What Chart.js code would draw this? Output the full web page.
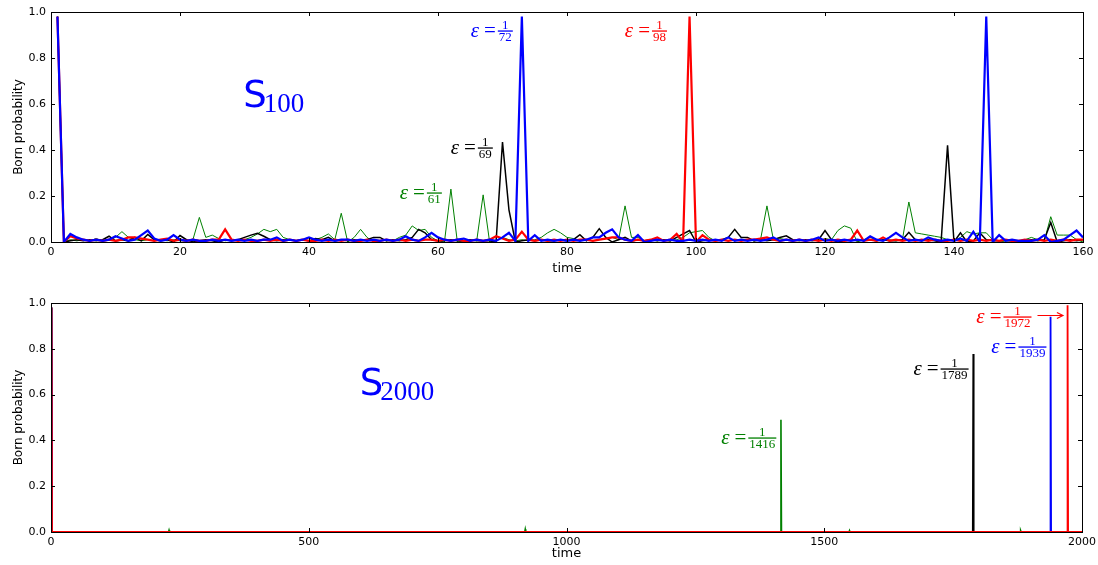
<!DOCTYPE html>
<html>
<head>
<meta charset="utf-8">
<script src="https://cdn.jsdelivr.net/npm/chart.js@4"></script>
<style>
  body { margin: 0; background: #fff; }
  canvas { position: absolute; left: 0; }
  #chartTop { top: 0; }
  #chartBottom { top: 282px; }
</style>
</head>
<body>
<canvas id="chartTop" width="1098" height="282"></canvas>
<canvas id="chartBottom" width="1098" height="283"></canvas>
<script>
// ---------------- S100 data : t = 1 .. 160 ----------------
const time100 = Array.from({ length: 160 }, (_, i) => i + 1);

const green100 = [
  0.98, 0.00, 0.01, 0.005, 0.01, 0.005, 0.015, 0.005, 0.01, 0.02,
  0.045, 0.02, 0.01, 0.005, 0.01, 0.005, 0.01, 0.005, 0.01, 0.005,
  0.005, 0.01, 0.107, 0.02, 0.03, 0.015, 0.005, 0.01, 0.005, 0.01,
  0.02, 0.035, 0.055, 0.045, 0.055, 0.02, 0.01, 0.005, 0.01, 0.02,
  0.01, 0.02, 0.035, 0.01, 0.125, 0.0, 0.02, 0.055, 0.02, 0.0,
  0.005, 0.01, 0.005, 0.02, 0.03, 0.07, 0.05, 0.055, 0.02, 0.005,
  0.0, 0.23, 0.0, 0.005, 0.01, 0.005, 0.205, 0.0, 0.005, 0.02,
  0.01, 0.005, 0.01, 0.005, 0.01, 0.02, 0.04, 0.055, 0.04, 0.02,
  0.015, 0.005, 0.01, 0.005, 0.01, 0.015, 0.02, 0.01, 0.157, 0.02,
  0.02, 0.005, 0.01, 0.005, 0.01, 0.005, 0.01, 0.02, 0.04, 0.045,
  0.05, 0.02, 0.005, 0.01, 0.005, 0.01, 0.005, 0.01, 0.005, 0.01,
  0.157, 0.01, 0.015, 0.01, 0.005, 0.01, 0.005, 0.01, 0.005, 0.015,
  0.01, 0.05, 0.07, 0.06, 0.0, 0.01, 0.02, 0.01, 0.005, 0.01,
  0.005, 0.01, 0.174, 0.04, 0.035, 0.03, 0.025, 0.02, 0.01, 0.005,
  0.02, 0.045, 0.035, 0.04, 0.04, 0.01, 0.005, 0.0, 0.0, 0.005,
  0.01, 0.02, 0.01, 0.005, 0.11, 0.03, 0.03, 0.03, 0.01, 0.0,
];

const black100 = [
  0.98, 0.0, 0.005, 0.01, 0.005, 0.01, 0.005, 0.01, 0.025, 0.005,
  0.01, 0.005, 0.02, 0.005, 0.033, 0.01, 0.005, 0.01, 0.0, 0.028,
  0.01, 0.0, 0.005, 0.01, 0.005, 0.0, 0.01, 0.005, 0.01, 0.02,
  0.03, 0.038, 0.025, 0.01, 0.005, 0.01, 0.01, 0.005, 0.01, 0.005,
  0.015, 0.01, 0.02, 0.005, 0.01, 0.005, 0.01, 0.005, 0.01, 0.02,
  0.02, 0.005, 0.01, 0.005, 0.01, 0.02, 0.055, 0.04, 0.01, 0.005,
  0.005, 0.01, 0.005, 0.005, 0.01, 0.005, 0.005, 0.005, 0.0, 0.435,
  0.14, 0.0, 0.005, 0.01, 0.005, 0.01, 0.005, 0.005, 0.01, 0.005,
  0.01, 0.032, 0.005, 0.02, 0.058, 0.02, 0.0, 0.01, 0.02, 0.005,
  0.01, 0.005, 0.01, 0.005, 0.01, 0.005, 0.02, 0.035, 0.05, 0.0,
  0.005, 0.01, 0.005, 0.01, 0.02, 0.055, 0.02, 0.02, 0.005, 0.01,
  0.005, 0.01, 0.02, 0.027, 0.01, 0.005, 0.01, 0.005, 0.01, 0.05,
  0.01, 0.0, 0.005, 0.01, 0.005, 0.01, 0.01, 0.005, 0.01, 0.005,
  0.005, 0.01, 0.042, 0.01, 0.005, 0.01, 0.005, 0.0, 0.42, 0.0,
  0.04, 0.0, 0.005, 0.04, 0.01, 0.005, 0.005, 0.01, 0.005, 0.005,
  0.005, 0.01, 0.005, 0.01, 0.085, 0.0, 0.005, 0.01, 0.005, 0.01,
];

const blue100 = [
  0.98, 0.0, 0.035, 0.02, 0.01, 0.005, 0.01, 0.005, 0.01, 0.025,
  0.015, 0.005, 0.01, 0.03, 0.05, 0.015, 0.005, 0.01, 0.03, 0.01,
  0.005, 0.01, 0.005, 0.005, 0.01, 0.005, 0.01, 0.005, 0.01, 0.005,
  0.01, 0.005, 0.01, 0.01, 0.02, 0.005, 0.01, 0.005, 0.01, 0.02,
  0.01, 0.005, 0.01, 0.005, 0.01, 0.01, 0.005, 0.01, 0.005, 0.01,
  0.005, 0.01, 0.005, 0.01, 0.025, 0.01, 0.005, 0.02, 0.04, 0.02,
  0.01, 0.005, 0.01, 0.015, 0.005, 0.01, 0.005, 0.01, 0.005, 0.02,
  0.04, 0.005, 0.98, 0.005, 0.03, 0.005, 0.01, 0.005, 0.01, 0.005,
  0.01, 0.005, 0.01, 0.02, 0.02, 0.04, 0.055, 0.02, 0.01, 0.005,
  0.03, 0.0, 0.005, 0.01, 0.005, 0.01, 0.005, 0.005, 0.01, 0.005,
  0.01, 0.005, 0.01, 0.005, 0.02, 0.005, 0.01, 0.005, 0.01, 0.005,
  0.01, 0.02, 0.005, 0.01, 0.005, 0.01, 0.005, 0.01, 0.02, 0.005,
  0.01, 0.005, 0.01, 0.005, 0.01, 0.005, 0.025, 0.01, 0.005, 0.02,
  0.04, 0.02, 0.005, 0.01, 0.005, 0.02, 0.01, 0.005, 0.01, 0.005,
  0.015, 0.005, 0.045, 0.0, 0.98, 0.0, 0.03, 0.005, 0.01, 0.005,
  0.005, 0.005, 0.01, 0.03, 0.0, 0.005, 0.01, 0.03, 0.05, 0.02,
];

const red100 = [
  0.98, 0.0, 0.025, 0.015, 0.01, 0.005, 0.01, 0.005, 0.01, 0.005,
  0.01, 0.02, 0.02, 0.015, 0.01, 0.005, 0.01, 0.015, 0.005, 0.01,
  0.005, 0.01, 0.005, 0.005, 0.01, 0.01, 0.055, 0.01, 0.005, 0.01,
  0.005, 0.005, 0.01, 0.005, 0.01, 0.005, 0.01, 0.005, 0.01, 0.005,
  0.005, 0.01, 0.005, 0.01, 0.005, 0.01, 0.005, 0.005, 0.01, 0.005,
  0.005, 0.01, 0.005, 0.01, 0.005, 0.01, 0.005, 0.01, 0.01, 0.005,
  0.01, 0.005, 0.01, 0.005, 0.005, 0.01, 0.005, 0.01, 0.025, 0.015,
  0.005, 0.01, 0.045, 0.01, 0.005, 0.01, 0.005, 0.01, 0.005, 0.01,
  0.005, 0.01, 0.01, 0.005, 0.01, 0.015, 0.02, 0.02, 0.01, 0.005,
  0.01, 0.005, 0.01, 0.02, 0.005, 0.01, 0.035, 0.0, 0.98, 0.0,
  0.03, 0.01, 0.005, 0.01, 0.005, 0.01, 0.005, 0.01, 0.01, 0.015,
  0.02, 0.01, 0.005, 0.01, 0.005, 0.01, 0.005, 0.01, 0.005, 0.01,
  0.005, 0.01, 0.005, 0.01, 0.05, 0.005, 0.01, 0.005, 0.02, 0.005,
  0.01, 0.005, 0.01, 0.005, 0.01, 0.005, 0.01, 0.005, 0.005, 0.01,
  0.005, 0.01, 0.005, 0.01, 0.005, 0.01, 0.005, 0.01, 0.005, 0.005,
  0.01, 0.005, 0.01, 0.005, 0.01, 0.005, 0.01, 0.005, 0.01, 0.01,
];

// ---------------- S2000 data : only the points that show ----------------
const greenT2000 = [1, 2, 228, 229, 230, 919, 920, 921, 1415, 1416, 1417, 1548, 1549, 1550, 1880, 1881, 1882, 2000];
const greenY2000 = [0.98, 0, 0, 0.008, 0, 0, 0.012, 0, 0, 0.49, 0, 0, 0.006, 0, 0, 0.006, 0, 0];
const blackT2000 = [1, 2, 1788, 1789, 1790, 2000];
const blackY2000 = [0.98, 0, 0, 0.777, 0, 0];
const blueT2000 = [1, 2, 1938, 1939, 1940, 2000];
const blueY2000 = [0.98, 0, 0, 0.94, 0, 0];
const redT2000 = [1, 2, 1971, 1972, 1973, 2000];
const redY2000 = [0.98, 0, 0, 0.99, 0, 0];

// ticks
const xTicksTop = [0, 20, 40, 60, 80, 100, 120, 140, 160];
const xTicksBottom = [0, 500, 1000, 1500, 2000];
const yTicks = [0.0, 0.2, 0.4, 0.6, 0.8, 1.0];

const toXY = (xs, ys) => ys.map((y, i) => ({ x: xs[i], y: y }));

// ---------------- 플러그인 : matplotlib 풍 테두리 + 안쪽 눈금 ----------------
const mplFrame = {
  id: "mplFrame",
  afterDraw(chart) {
    const { ctx, chartArea: a } = chart;
    const sx = chart.scales.x, sy = chart.scales.y;
    ctx.save();
    ctx.strokeStyle = "#000";
    ctx.lineWidth = 1;
    ctx.strokeRect(Math.round(a.left) + 0.5, Math.round(a.top) + 0.5,
      Math.round(a.right - a.left), Math.round(a.bottom - a.top));
    ctx.beginPath();
    sx.ticks.forEach((t) => {
      const px = Math.round(sx.getPixelForValue(t.value)) + 0.5;
      ctx.moveTo(px, a.bottom); ctx.lineTo(px, a.bottom - 4);
      ctx.moveTo(px, a.top); ctx.lineTo(px, a.top + 4);
    });
    sy.ticks.forEach((t) => {
      const py = Math.round(sy.getPixelForValue(t.value)) + 0.5;
      ctx.moveTo(a.left, py); ctx.lineTo(a.left + 4, py);
      ctx.moveTo(a.right, py); ctx.lineTo(a.right - 4, py);
    });
    ctx.stroke();
    ctx.restore();
  },
};

// ---------------- 플러그인 : ε = 1/n 라벨, S 라벨 ----------------
const mathLabels = {
  id: "mathLabels",
  afterDatasetsDraw(chart, args, opts) {
    const ctx = chart.ctx;
    const sx = chart.scales.x, sy = chart.scales.y;
    const fs = opts.fracSize || 13;
    (opts.items || []).forEach((it) => {
      const xr = sx.getPixelForValue(it.x);
      const yb = Math.round(sy.getPixelForValue(it.y));
      ctx.save();
      ctx.fillStyle = it.color;
      ctx.strokeStyle = it.color;
      ctx.font = fs + "px 'Liberation Serif'";
      const w = Math.max(ctx.measureText("1").width, ctx.measureText(it.den).width) + 2;
      ctx.textAlign = "center";
      ctx.textBaseline = "alphabetic";
      ctx.fillText("1", xr - w / 2, yb - 2);
      ctx.fillText(it.den, xr - w / 2, yb + fs * 0.8);
      ctx.fillRect(xr - w, yb - 0.6, w, 1.3);
      ctx.font = "21px 'Liberation Serif'";
      ctx.textAlign = "right";
      ctx.fillText("=", xr - w - 2, yb + 5.5);
      const we = ctx.measureText("=").width;
      ctx.font = "italic 21px 'Liberation Serif'";
      ctx.fillText("ε", xr - w - 2 - we - 5, yb + 5.5);
      if (it.arrowTo) {
        const x1 = xr + 6, x2 = sx.getPixelForValue(it.arrowTo);
        const ya = yb - 1.5;
        ctx.lineWidth = 1.2;
        ctx.beginPath();
        ctx.moveTo(x1, ya); ctx.lineTo(x2, ya);
        ctx.moveTo(x2 - 6, ya - 3); ctx.lineTo(x2, ya); ctx.lineTo(x2 - 6, ya + 3);
        ctx.stroke();
      }
      ctx.restore();
    });
    if (opts.sLabel) {
      const s = opts.sLabel;
      const x0 = sx.getPixelForValue(s.x), y0 = sy.getPixelForValue(s.y);
      ctx.save();
      ctx.fillStyle = s.color;
      ctx.textAlign = "left";
      ctx.textBaseline = "alphabetic";
      ctx.font = "37px 'DejaVu Sans'";
      ctx.fillText("S", x0, y0);
      const ws = ctx.measureText("S").width;
      ctx.font = "27px 'Liberation Serif'";
      ctx.fillText(s.sub, x0 + ws - 3, y0 + 5);
      ctx.restore();
    }
  },
};

// ---------------- 옵션 ----------------
function makeOptions(xMax, xTickList, axisHeight, pad, titlePad, items, sLabel) {
  return {
    responsive: false,
    animation: false,
    layout: { padding: pad },
    plugins: {
      legend: { display: false },
      tooltip: { enabled: false },
      mathLabels: { items: items, sLabel: sLabel, fracSize: 13 },
    },
    elements: { point: { radius: 0 }, line: { tension: 0 } },
    scales: {
      x: {
        type: "linear",
        min: 0,
        max: xMax,
        afterBuildTicks: (s) => { s.ticks = xTickList.map((v) => ({ value: v })); },
        afterFit: (s) => { s.height = axisHeight; s.paddingLeft = 0; s.paddingRight = 0; },
        grid: { display: false, drawTicks: false },
        border: { display: false },
        ticks: { autoSkip: false, maxRotation: 0, padding: 4, color: "#000",
          font: { family: "DejaVu Sans", size: 11 }, callback: (v) => String(v) },
        title: { display: true, text: "time", color: "#000",
          font: { family: "DejaVu Sans", size: 13 }, padding: { top: 0, bottom: titlePad } },
      },
      y: {
        min: 0,
        max: 1,
        afterBuildTicks: (s) => { s.ticks = yTicks.map((v) => ({ value: v })); },
        afterFit: (s) => { s.width = 51; },
        grid: { display: false, drawTicks: false },
        border: { display: false },
        ticks: { padding: 5, color: "#000", font: { family: "DejaVu Sans", size: 11 },
          callback: (v) => Number(v).toFixed(1) },
        title: { display: true, text: "Born probability", color: "#000",
          font: { family: "DejaVu Sans", size: 12 }, padding: { top: 12, bottom: 0 } },
      },
    },
  };
}

// ---------------- 위 차트 S100 ----------------
const configTop = {
  type: "line",
  data: {
    datasets: [
      { label: "blue", data: toXY(time100, blue100), borderColor: "#0000ff", borderWidth: 2.2 },
      { label: "red", data: toXY(time100, red100), borderColor: "#ff0000", borderWidth: 2.2 },
      { label: "black", data: toXY(time100, black100), borderColor: "#000000", borderWidth: 1.5 },
      { label: "green", data: toXY(time100, green100), borderColor: "#008000", borderWidth: 1 },
    ],
  },
  options: makeOptions(160, xTicksTop, 40, { top: 12, right: 15, left: 0, bottom: 0 }, 6, [
    { x: 71.6, y: 0.917, den: "72", color: "#0000ff" },
    { x: 95.5, y: 0.917, den: "98", color: "#ff0000" },
    { x: 68.5, y: 0.41, den: "69", color: "#000000" },
    { x: 60.6, y: 0.213, den: "61", color: "#008000" },
  ], { x: 29.8, y: 0.587, sub: "100", color: "#0000ff" }),
  plugins: [mathLabels, mplFrame],
};
new Chart(document.getElementById("chartTop"), configTop);

// ---------------- 아래 차트 S2000 ----------------
const configBottom = {
  type: "line",
  data: {
    datasets: [
      { label: "red", data: toXY(redT2000, redY2000), borderColor: "#ff0000", borderWidth: 1.8 },
      { label: "blue", data: toXY(blueT2000, blueY2000), borderColor: "#0000ff", borderWidth: 1.8 },
      { label: "black", data: toXY(blackT2000, blackY2000), borderColor: "#000000", borderWidth: 1.6 },
      { label: "green", data: toXY(greenT2000, greenY2000), borderColor: "#008000", borderWidth: 1.6 },
    ],
  },
  options: makeOptions(2000, xTicksBottom, 33, { top: 21, right: 16, left: 0, bottom: 0 }, 4, [
    { x: 1407, y: 0.41, den: "1416", color: "#008000" },
    { x: 1780, y: 0.71, den: "1789", color: "#000000" },
    { x: 1931, y: 0.81, den: "1939", color: "#0000ff" },
    { x: 1902, y: 0.94, den: "1972", color: "#ff0000", arrowTo: 1963 },
  ], { x: 599, y: 0.598, sub: "2000", color: "#0000ff" }),
  plugins: [mathLabels, mplFrame],
};
new Chart(document.getElementById("chartBottom"), configBottom);
</script>
</body>
</html>
